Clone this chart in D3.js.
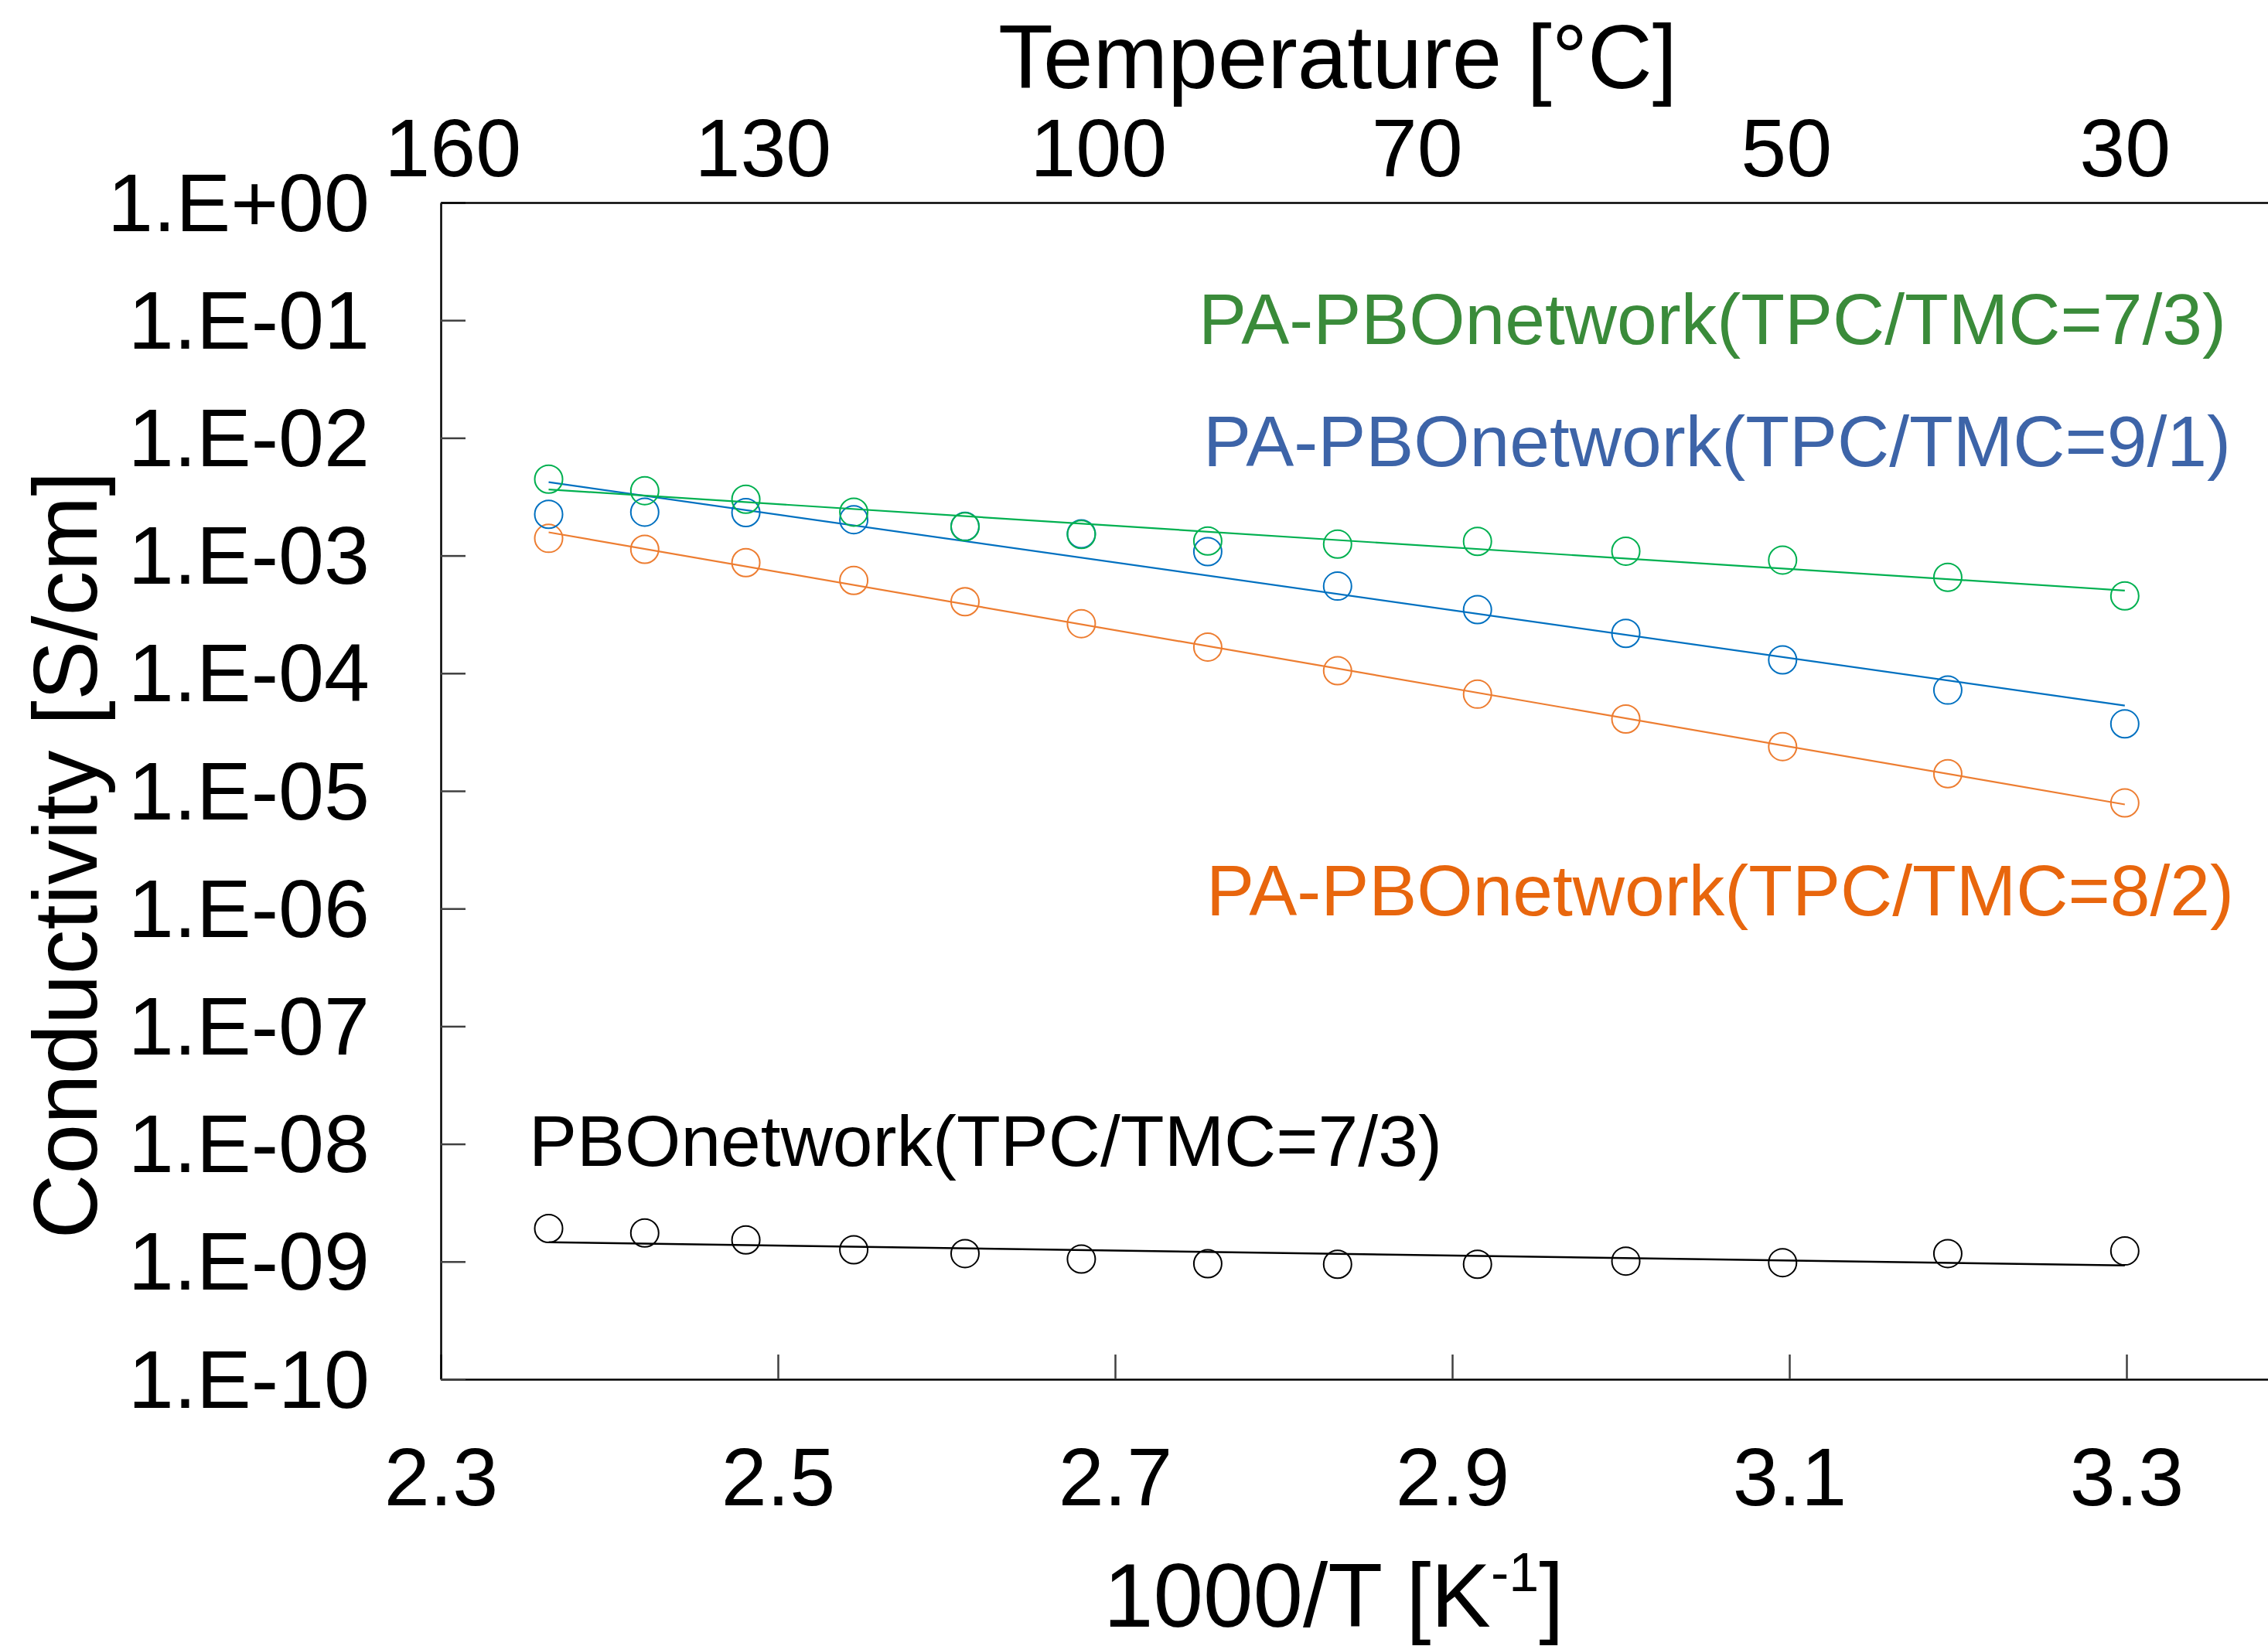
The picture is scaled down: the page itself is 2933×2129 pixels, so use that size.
<!DOCTYPE html>
<html>
<head>
	<title>Conductivity vs 1000/T</title>
	<meta charset=utf-8>
	<script src="https://d3js.org/d3.v7.min.js"></script>
	<style type="text/css">
		body{
			margin: 0;
			background: #fff;
		}
		svg{
			display: block;
			font-family: "Liberation Sans", Arial, sans-serif;
		}
	</style>
</head>
<body>
	<svg id="chart" width="2933" height="2129"></svg>

	<script type="text/javascript">
		// 1000/T [K^-1] of the measurements (150 .. 30 C)
		const invT = [2.364, 2.421, 2.481, 2.545, 2.611, 2.680, 2.755, 2.832, 2.915, 3.003, 3.096, 3.194, 3.299];

		// conductivity [S/cm]
		const pa73 = [4.46e-3, 3.56e-3, 3.01e-3, 2.34e-3, 1.76e-3, 1.51e-3, 1.33e-3, 1.25e-3, 1.32e-3, 1.09e-3, 9.16e-4, 6.53e-4, 4.54e-4];
		const pa91 = [2.24e-3, 2.34e-3, 2.32e-3, 2.02e-3, 1.77e-3, 1.53e-3, 1.08e-3, 5.50e-4, 3.47e-4, 2.18e-4, 1.30e-4, 7.19e-5, 3.71e-5];
		const pa82 = [1.40e-3, 1.13e-3, 8.71e-4, 6.14e-4, 4.05e-4, 2.64e-4, 1.67e-4, 1.05e-4, 6.64e-5, 4.08e-5, 2.38e-5, 1.40e-5, 7.9e-6];
		const pbo73 = [1.91e-9, 1.75e-9, 1.53e-9, 1.26e-9, 1.17e-9, 1.05e-9, 9.6e-10, 9.5e-10, 9.5e-10, 1.01e-9, 9.8e-10, 1.17e-9, 1.23e-9];

		const xTicks = [2.3, 2.5, 2.7, 2.9, 3.1, 3.3];
		const yTicks = [1e0, 1e-1, 1e-2, 1e-3, 1e-4, 1e-5, 1e-6, 1e-7, 1e-8, 1e-9, 1e-10];

		// top axis: temperature labels and where they sit on the 1000/T axis
		const tempLabels = ['160', '130', '100', '70', '50', '30'];
		const tempPos = [2.307, 2.491, 2.690, 2.879, 3.098, 3.299];

		const series = [
			{name: 'PBOnetwork(TPC/TMC=7/3)', values: pbo73, mark: '#000000', text: '#000000'},
			{name: 'PA-PBOnetwork(TPC/TMC=8/2)', values: pa82, mark: '#ed7d31', text: '#e8660d'},
			{name: 'PA-PBOnetwork(TPC/TMC=9/1)', values: pa91, mark: '#0070c0', text: '#3d64a8'},
			{name: 'PA-PBOnetwork(TPC/TMC=7/3)', values: pa73, mark: '#00b050', text: '#3a8b3a'}
		];

		const svg = d3.select('#chart');

		const x = d3.scaleLinear()
			.domain([2.3, 3.4])
			.range([570, 2968]);

		const y = d3.scaleLog()
			.domain([1e-10, 1])
			.range([1784, 262]);

		const expFmt = function(d){
			const e = Math.round(Math.log10(d));
			return '1.E' + (e < 0 ? '-' : '+') + String(Math.abs(e)).padStart(2, '0');
		};

		const styleAxis = function(g){
			g.attr('font-size', 106).attr('font-family', null);
			g.select('.domain').attr('stroke', '#000').attr('stroke-width', 2.5);
			g.selectAll('.tick line').attr('stroke', '#404040').attr('stroke-width', 2.5);
			g.selectAll('.tick text').attr('fill', '#000');
		};

		// bottom axis, ticks point inwards
		svg.append('g')
			.attr('transform', 'translate(0,1784)')
			.call(d3.axisBottom(x)
				.tickValues(xTicks)
				.tickSizeInner(-32)
				.tickSizeOuter(0)
				.tickPadding(88)
				.tickFormat(d3.format('.1f')))
			.call(styleAxis);

		svg.append('g')
			.attr('transform', 'translate(570,0)')
			.call(d3.axisLeft(y)
				.tickValues(yTicks)
				.tickSizeInner(-32)
				.tickSizeOuter(0)
				.tickPadding(92)
				.tickFormat(expFmt))
			.call(styleAxis)
			.call(g => g.selectAll('.tick text').attr('dy', '0.34em'));

		// top axis: temperature labels only
		svg.append('g')
			.attr('transform', 'translate(0,262)')
			.call(d3.axisTop(x)
				.tickValues(tempPos)
				.tickSize(0)
				.tickPadding(34)
				.tickFormat((d, i) => tempLabels[i]))
			.call(styleAxis);

		// least squares in log space, same as the exponential trendlines
		function fitLine(vals){
			const ly = vals.map(v => Math.log10(v));
			const mx = d3.mean(invT), my = d3.mean(ly);
			let sxy = 0, sxx = 0;
			invT.forEach((xv, i) => {
				sxy += (xv - mx) * (ly[i] - my);
				sxx += (xv - mx) * (xv - mx);
			});
			const b = sxy / sxx;
			const ends = [invT[0], invT[invT.length - 1]];
			return ends.map(xv => [xv, Math.pow(10, my + b * (xv - mx))]);
		}

		const line = d3.line()
			.x(d => x(d[0]))
			.y(d => y(d[1]));

		series.forEach(function(s){
			const g = svg.append('g');

			g.append('path')
				.datum(fitLine(s.values))
				.attr('d', line)
				.attr('fill', 'none')
				.attr('stroke', s.mark)
				.attr('stroke-width', s.mark === '#000000' ? 2.6 : 2.2);

			g.selectAll('circle')
				.data(s.values)
				.enter()
				.append('circle')
				.attr('cx', (d, i) => x(invT[i]))
				.attr('cy', d => y(d))
				.attr('r', 18)
				.attr('fill', 'none')
				.attr('stroke', s.mark)
				.attr('stroke-width', 2);
		});

		// series labels
		const labelPos = {
			'PA-PBOnetwork(TPC/TMC=7/3)': [1550, 445],
			'PA-PBOnetwork(TPC/TMC=9/1)': [1556, 603],
			'PA-PBOnetwork(TPC/TMC=8/2)': [1560, 1184],
			'PBOnetwork(TPC/TMC=7/3)': [684, 1508]
		};
		svg.append('g')
			.selectAll('text')
			.data(series)
			.enter()
			.append('text')
			.attr('x', d => labelPos[d.name][0])
			.attr('y', d => labelPos[d.name][1])
			.attr('font-size', 93)
			.attr('fill', d => d.text)
			.text(d => d.name);

		// axis titles
		svg.append('text')
			.attr('x', 1291)
			.attr('y', 114)
			.attr('font-size', 116)
			.text('Temperature [°C]');

		const xt = svg.append('text')
			.attr('x', 1427)
			.attr('y', 2104)
			.attr('font-size', 116);
		xt.append('tspan').text('1000/T [K');
		xt.append('tspan').attr('font-size', 70).attr('dy', -46).text('-1');
		xt.append('tspan').attr('dy', 46).text(']');

		svg.append('text')
			.attr('transform', 'translate(125,1106) rotate(-90)')
			.attr('text-anchor', 'middle')
			.attr('font-size', 116)
			.text('Conductivity [S/cm]');
	</script>
</body>
</html>
